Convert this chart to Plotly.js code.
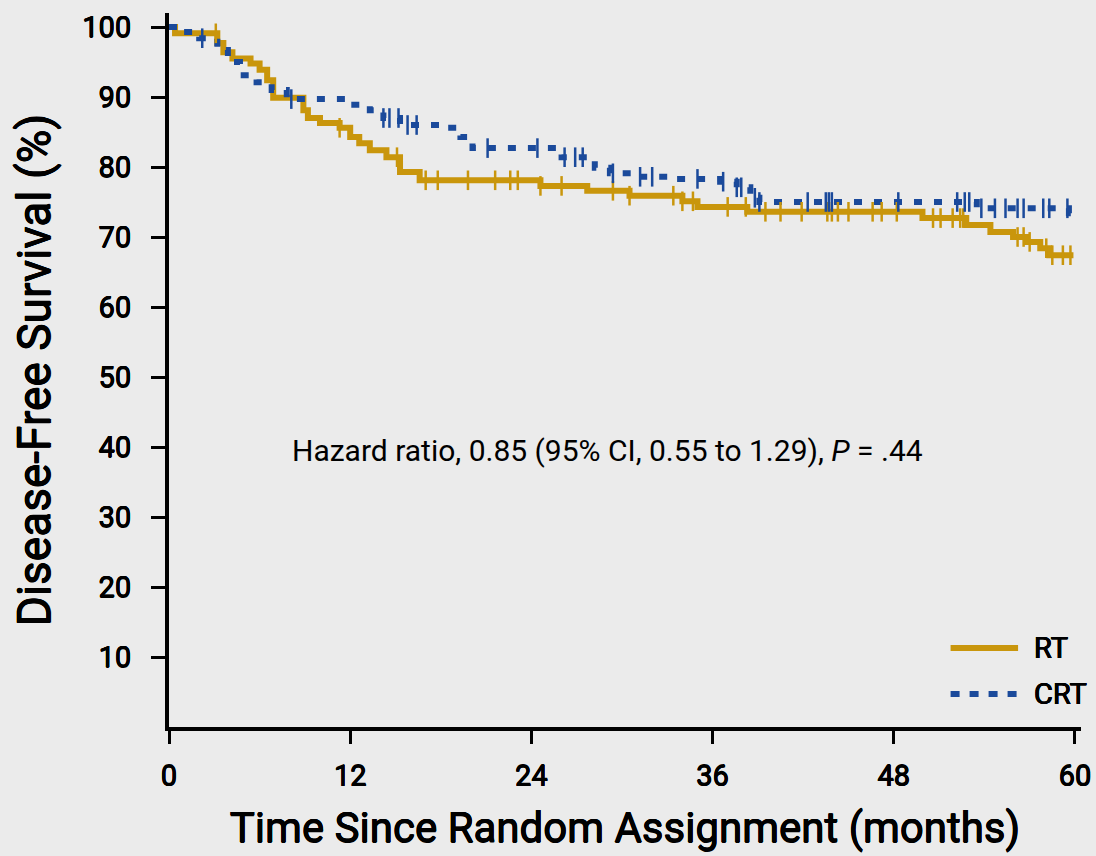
<!DOCTYPE html>
<html>
<head>
<meta charset="utf-8">
<script src="https://cdn.plot.ly/plotly-3.0.1.min.js"></script>
<style>
  html, body { margin: 0; padding: 0; background: #ebebeb; }
  #chart { width: 1096px; height: 856px; }
</style>
</head>
<body>
<div id="chart"></div>
<script>
// ---- data ----
const rtTime = [0, 0.4, 3.2, 3.6, 4.2, 5.4, 6.0, 6.5, 6.9, 8.9, 9.2, 10.0, 11.3, 12.0, 12.6, 13.3, 14.4, 15.3, 16.6, 24.6, 27.7, 30.5, 34.0, 35.0, 38.3, 49.9, 52.8, 54.4, 55.9, 56.8, 57.7, 58.3, 59.9];
const rtSurv = [100, 99.1, 97.7, 96.4, 95.5, 94.8, 93.9, 92.4, 89.9, 88.1, 87.0, 86.3, 85.6, 84.3, 83.4, 82.4, 81.4, 79.3, 78.1, 77.3, 76.6, 75.9, 75.1, 74.3, 73.6, 72.7, 71.7, 70.7, 70.0, 69.3, 68.4, 67.4, 67.4];
const crtTime = [0, 1.0, 2.0, 3.2, 3.9, 4.7, 5.8, 6.8, 7.8, 12.0, 13.3, 14.2, 15.3, 18.1, 19.3, 20.1, 26.0, 28.2, 29.2, 31.0, 33.6, 36.5, 37.6, 38.5, 39.1, 53.5, 59.6, 59.9];
const crtSurv = [100, 99.3, 98.4, 96.7, 95.0, 93.1, 92.1, 91.0, 89.7, 88.9, 88.1, 87.0, 86.0, 85.6, 84.3, 82.7, 81.4, 79.9, 79.1, 78.6, 78.3, 77.9, 77.1, 75.6, 75.0, 74.1, 73.4, 73.4];
const rtCensor = [3.1, 11.3, 15.1, 17.0, 17.8, 19.8, 21.6, 22.6, 23.1, 24.6, 26.0, 29.4, 30.5, 33.4, 34.0, 34.7, 37.0, 38.2, 39.5, 40.5, 41.9, 43.6, 43.9, 44.3, 45.0, 46.6, 47.2, 48.2, 50.6, 51.1, 51.9, 52.4, 52.6, 56.2, 56.6, 57.0, 58.1, 58.5, 59.2, 59.7];
const crtCensor = [2.2, 8.1, 14.2, 14.6, 15.2, 15.8, 16.4, 21.1, 24.4, 26.2, 26.9, 27.4, 29.4, 31.2, 32.0, 35.0, 36.7, 37.6, 37.9, 38.8, 39.1, 42.3, 43.5, 43.7, 43.9, 48.3, 52.2, 52.7, 53.0, 53.8, 54.7, 55.4, 56.2, 56.6, 57.9, 58.3, 59.5];
const seriesNames = ['RT', 'CRT'];
const xTicks = [0, 12, 24, 36, 48, 60];
const yTicks = [10, 20, 30, 40, 50, 60, 70, 80, 90, 100];
const hazardText = 'Hazard ratio, 0.85 (95% CI, 0.55 to 1.29), <i>P</i> = .44';

// ---- helpers ----
function survAt(times, surv, t) {
  let v = surv[0];
  for (let i = 0; i < times.length; i++) { if (times[i] <= t) v = surv[i]; else break; }
  return v;
}
const GOLD = '#c9960c';
const BLUE = '#1b4a9b';
const FONT = 'Roboto, Liberation Sans, Arial, sans-serif';
const HEAVY = '0.45px 0 0 #000, -0.45px 0 0 #000, 0 0.45px 0 #000, 0 -0.45px 0 #000';
function f(size, heavy) {
  const o = { size: size, family: FONT, color: '#000', weight: 'normal' };
  if (heavy) o.shadow = HEAVY;
  return o;
}

const traces = [
  { x: rtTime, y: rtSurv, type: 'scatter', mode: 'lines', name: seriesNames[0],
    line: { shape: 'hv', color: GOLD, width: 6 }, showlegend: false, hoverinfo: 'skip' },
  { x: crtTime, y: crtSurv, type: 'scatter', mode: 'lines', name: seriesNames[1],
    line: { shape: 'hv', color: BLUE, width: 6, dash: '8px,12px' }, showlegend: false, hoverinfo: 'skip' },
  { x: rtCensor, y: rtCensor.map(t => survAt(rtTime, rtSurv, t)), type: 'scatter', mode: 'markers',
    marker: { symbol: 'line-ns', size: 14, line: { color: GOLD, width: 2.5 } }, showlegend: false, hoverinfo: 'skip' },
  { x: crtCensor, y: crtCensor.map(t => survAt(crtTime, crtSurv, t)), type: 'scatter', mode: 'markers',
    marker: { symbol: 'line-ns', size: 14, line: { color: BLUE, width: 2.5 } }, showlegend: false, hoverinfo: 'skip' }
];

const layout = {
  width: 1096, height: 856,
  paper_bgcolor: '#ebebeb', plot_bgcolor: '#ebebeb',
  margin: { l: 169, r: 15, t: 13, b: 129, pad: 0 },
  showlegend: false,
  font: { family: FONT, color: '#000' },
  xaxis: {
    range: [0, 60.4], tickvals: xTicks, ticktext: xTicks.map(String),
    showgrid: false, zeroline: false, showline: true, linecolor: '#000', linewidth: 4,
    ticks: 'outside', ticklen: 13, tickwidth: 3, tickcolor: '#000',
    tickfont: f(29, true), ticklabelstandoff: 7,
    title: { text: 'Time Since Random Assignment (months)', font: f(42, true), standoff: 22 },
    fixedrange: true
  },
  yaxis: {
    range: [0, 102], tickvals: yTicks, ticktext: yTicks.map(String),
    showgrid: false, zeroline: false, showline: true, linecolor: '#000', linewidth: 4,
    ticks: 'outside', ticklen: 14, tickwidth: 3, tickcolor: '#000',
    tickfont: f(29, true), ticklabelstandoff: 14,
    title: { text: 'Disease-Free Survival (%)', font: f(46, true), standoff: 18 },
    fixedrange: true
  },
  shapes: [
    { type: 'line', xref: 'paper', yref: 'paper', x0: 0.857, x1: 0.931, y0: 0.1106, y1: 0.1106,
      line: { color: GOLD, width: 6 } },
    { type: 'line', xref: 'paper', yref: 'paper', x0: 0.857, x1: 0.931, y0: 0.0462, y1: 0.0462,
      line: { color: BLUE, width: 6, dash: '9px,10px' } }
  ],
  annotations: [
    { xref: 'paper', yref: 'paper', x: 0.481, y: 0.3866, text: hazardText, showarrow: false,
      xanchor: 'center', yanchor: 'middle', font: f(30, false) },
    { xref: 'paper', yref: 'paper', x: 0.946, y: 0.1106, text: seriesNames[0], showarrow: false,
      xanchor: 'left', yanchor: 'middle', font: f(29, true) },
    { xref: 'paper', yref: 'paper', x: 0.946, y: 0.0462, text: seriesNames[1], showarrow: false,
      xanchor: 'left', yanchor: 'middle', font: f(29, true) }
  ]
};

Plotly.newPlot('chart', traces, layout, { staticPlot: true, displayModeBar: false });
</script>
</body>
</html>
